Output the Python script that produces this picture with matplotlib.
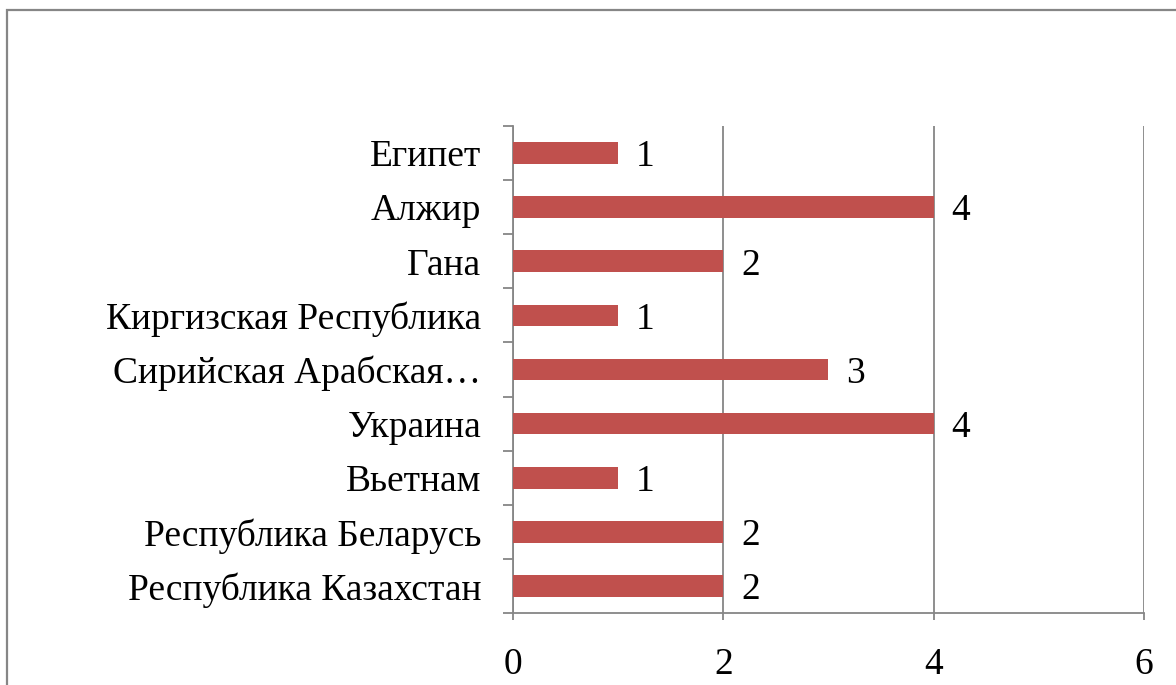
#!/usr/bin/env python3
"""Horizontal bar chart: count by country."""

import matplotlib
matplotlib.use("Agg")
import matplotlib.pyplot as plt
from matplotlib.patches import Rectangle
import numpy as np

COUNTRIES = [
    "Республика Казахстан",
    "Республика Беларусь",
    "Вьетнам",
    "Украина",
    "Сирийская Арабская…",
    "Киргизская Республика",
    "Гана",
    "Алжир",
    "Египет",
]
VALUES = [2, 2, 1, 4, 3, 1, 2, 4, 1]
X_TICKS = [0, 2, 4, 6]

BAR_COLOR = "#C0504D"
GRID_COLOR = "#868686"
FS = 27

plt.rcParams["font.family"] = ["Liberation Serif", "DejaVu Serif"]

fig = plt.figure(figsize=(11.76, 6.85), dpi=100)
ax = fig.add_axes([0.4362, 0.1051, 0.5366, 0.711])

y = np.arange(len(COUNTRIES))
ax.barh(y, VALUES, height=0.4, color=BAR_COLOR, zorder=3)

for yi, v in zip(y, VALUES):
    ax.text(v + 0.17, yi, str(v), va="center_baseline", ha="left", fontsize=FS, zorder=4)

ax.set_xlim(0, 6)
ax.set_ylim(-0.5, len(COUNTRIES) - 0.5)
ax.set_xticks(X_TICKS)
ax.set_xticklabels([str(t) for t in X_TICKS], fontsize=FS)
ax.set_yticks(y)
ax.set_yticklabels(COUNTRIES, fontsize=FS, va="center_baseline")
ax.set_yticks(np.arange(len(COUNTRIES) + 1) - 0.5, minor=True)

ax.tick_params(axis="y", which="major", length=0, pad=23)
ax.tick_params(axis="y", which="minor", length=7, width=1.3, color=GRID_COLOR, direction="out")
ax.tick_params(axis="x", which="major", length=5, width=1.3, color=GRID_COLOR, direction="out", pad=20)

ax.xaxis.grid(True, color=GRID_COLOR, linewidth=1.3, zorder=1)
ax.set_axisbelow(True)

for side in ("top", "right"):
    ax.spines[side].set_visible(False)
for side in ("left", "bottom"):
    ax.spines[side].set_color(GRID_COLOR)
    ax.spines[side].set_linewidth(1.3)

# outer chart border (extends past the right and bottom edges)
fig.patches.append(Rectangle((7 / 1176, -0.05), 1.2, 1 - 10 / 685 + 0.05,
                             transform=fig.transFigure, fill=False,
                             edgecolor=GRID_COLOR, linewidth=1.6))

fig.savefig("out.png", dpi=100, facecolor="white")
